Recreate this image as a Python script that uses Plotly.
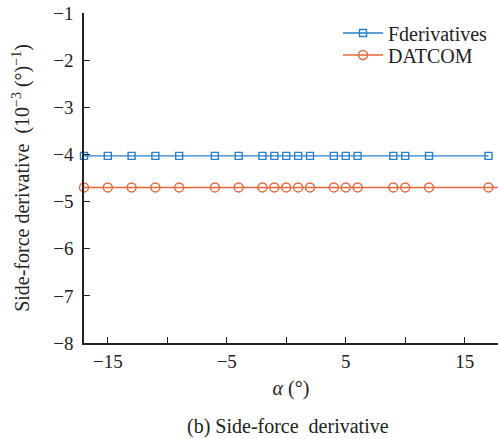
import plotly.graph_objects as go

# Angle of attack (deg) and side-force derivative (1e-3 per deg)
alpha_f = [-17, -15, -13, -11, -9, -6, -4, -2, -1, 0, 1, 2, 4, 5, 6, 9, 10, 12, 17]
cy_f = [-4.03] * len(alpha_f)
alpha_d = [-17, -15, -13, -11, -9, -6, -4, -2, -1, 0, 1, 2, 4, 5, 6, 9, 10, 12, 17, 18]
cy_d = [-4.70] * len(alpha_d)

x_ticks = [-15, -5, 5, 15]
x_ticktext = ["\u221215", "\u22125", "5", "15"]
x_minor_ticks = [-10, 0, 10]
y_ticks = [-1, -2, -3, -4, -5, -6, -7, -8]
y_ticktext = ["\u2212" + str(abs(v)) for v in y_ticks]

FONT = "Liberation Serif"
BLUE = "#2a7fca"
ORANGE = "#e5673a"
L, T, B = 84, 13, 96
W, H = 498, 439
PH = H - T - B
PW = W - L


def py(y_px):
    return (H - B - y_px) / PH


def px(x_px):
    return (x_px - L) / PW


fig = go.Figure()
fig.add_trace(go.Scatter(
    x=alpha_f, y=cy_f, mode="lines+markers", name="Fderivatives",
    line=dict(color=BLUE, width=1.4),
    marker=dict(symbol="square-open", size=7, color=BLUE, line=dict(width=1.4)),
    cliponaxis=False, legend="legend",
))
fig.add_trace(go.Scatter(
    x=alpha_d, y=cy_d, mode="lines+markers", name="DATCOM",
    line=dict(color=ORANGE, width=1.4),
    marker=dict(symbol="circle-open", size=9, color=ORANGE, line=dict(width=1.4)),
    cliponaxis=False, legend="legend2",
))

leg_common = dict(xanchor="left", yanchor="middle", bgcolor="rgba(0,0,0,0)",
                  font=dict(family=FONT, size=20, color="#222"), itemwidth=40)

fig.update_layout(
    width=W, height=H,
    margin=dict(l=L, r=0, t=T, b=B),
    plot_bgcolor="white", paper_bgcolor="white",
    font=dict(family=FONT, size=20, color="#222"),
    showlegend=True,
    legend=dict(x=px(338), y=py(33), **leg_common),
    legend2=dict(x=px(338), y=py(55), **leg_common),
    xaxis=dict(
        range=[-17, 17.8], tickvals=x_ticks, ticktext=x_ticktext,
        ticks="inside", ticklen=6, tickwidth=1.3, tickcolor="#222",
        minor=dict(tickvals=x_minor_ticks, ticks="inside", ticklen=6,
                   tickwidth=1.3, tickcolor="#222", showgrid=False),
        showline=True, linecolor="#222", linewidth=1.5, mirror=False,
        showgrid=False, zeroline=False, tickfont=dict(size=19),
        title=dict(text="<i>\u03b1</i> (\u00b0)", font=dict(family=FONT, size=20), standoff=10),
    ),
    yaxis=dict(
        range=[-8, -1], tickvals=y_ticks, ticktext=y_ticktext,
        ticks="inside", ticklen=6, tickwidth=1.3, tickcolor="#222",
        showline=True, linecolor="#222", linewidth=1.5, mirror=False,
        showgrid=False, zeroline=False, tickfont=dict(size=19), ticklabelstandoff=5,
        title=dict(text="Side-force derivative  (10<sup>\u22123</sup> (\u00b0)<sup>\u22121</sup>)",
                   font=dict(family=FONT, size=20), standoff=18),
    ),
    annotations=[dict(
        text="(b) Side-force  derivative", xref="paper", yref="paper",
        x=px(287.5), y=py(427), xanchor="center", yanchor="middle",
        showarrow=False, font=dict(family=FONT, size=20),
    )],
)

fig.write_html("out.html")
